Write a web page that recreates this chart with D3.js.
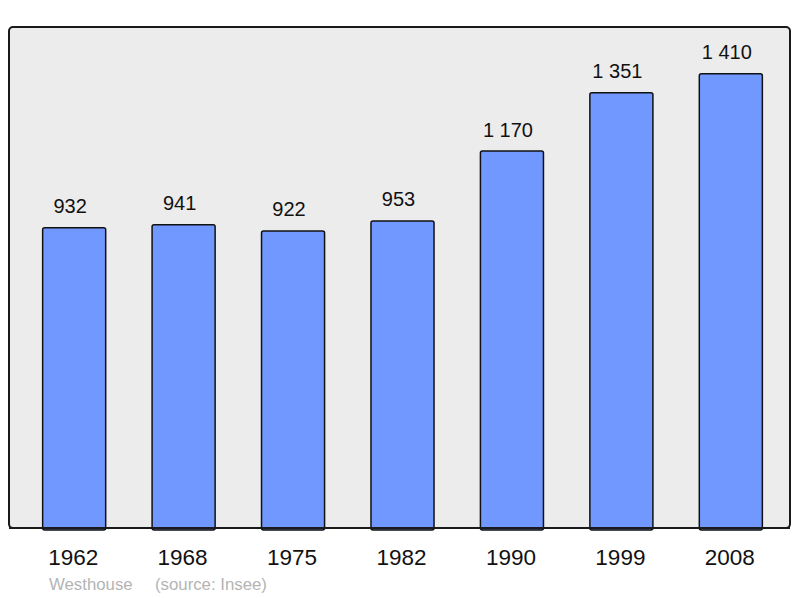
<!DOCTYPE html>
<html><head><meta charset="utf-8">
<script src="https://cdn.jsdelivr.net/npm/d3@7"></script>
<style>body{margin:0;background:#fff}svg{display:block}text{font-family:"Liberation Sans",Arial,sans-serif}</style>
</head><body>
<svg id="c" width="800" height="598"></svg>
<script>
const years = ["1962","1968","1975","1982","1990","1999","2008"];
const population = [932, 941, 922, 953, 1170, 1351, 1410];
const valueLabels = ["932","941","922","953","1 170","1 351","1 410"];
const footerLeft = "Westhouse";
const footerRight = "(source: Insee)";

const svg = d3.select("#c");
const panel = {x0: 9, y0: 27, x1: 790, y1: 528};
svg.append("rect").attr("x", panel.x0).attr("y", panel.y0)
  .attr("width", panel.x1 - panel.x0).attr("height", panel.y1 - panel.y0)
  .attr("rx", 4).attr("fill", "#ececec").attr("stroke", "#1a1a1a").attr("stroke-width", 2);

const x = d3.scaleBand().domain(years).range([12, 793]).paddingInner(0.424).paddingOuter(0.28);
const y = d3.scaleLinear().domain([0, 1555]).range([panel.y1, panel.y0]);

const data = years.map((yr, i) => ({yr, v: population[i], lab: valueLabels[i]}));

svg.append("g").selectAll("rect").data(data).join("rect")
  .attr("x", d => x(d.yr)).attr("y", d => y(d.v))
  .attr("width", x.bandwidth()).attr("height", d => y(0) - y(d.v) + 2)
  .attr("rx", 2).attr("fill", "#7098ff").attr("stroke", "#111").attr("stroke-width", 1.5);

svg.append("line").attr("x1", panel.x0).attr("x2", panel.x1).attr("y1", panel.y1).attr("y2", panel.y1)
  .attr("stroke", "#1a1a1a").attr("stroke-width", 2);

svg.append("g").selectAll("text").data(data).join("text")
  .attr("x", d => x(d.yr) + x.bandwidth() / 2 - 4).attr("y", d => y(d.v) - 14.5)
  .attr("text-anchor", "middle").attr("font-size", 20).attr("fill", "#111").text(d => d.lab);

const xAxis = svg.append("g").attr("transform", `translate(0,${panel.y1})`)
  .call(d3.axisBottom(x).tickSize(0).tickPadding(0));
xAxis.select(".domain").remove();
xAxis.selectAll("text").attr("font-size", 22.5).attr("fill", "#111").attr("dy", null).attr("y", 37)
  .attr("dx", -1).attr("font-family", '"Liberation Sans",Arial,sans-serif');

svg.append("text").attr("x", 49).attr("y", 590).attr("font-size", 16.8).attr("fill", "#b4b4b4").text(footerLeft);
svg.append("text").attr("x", 155).attr("y", 590).attr("font-size", 16.8).attr("fill", "#b4b4b4").text(footerRight);
</script>
</body></html>
